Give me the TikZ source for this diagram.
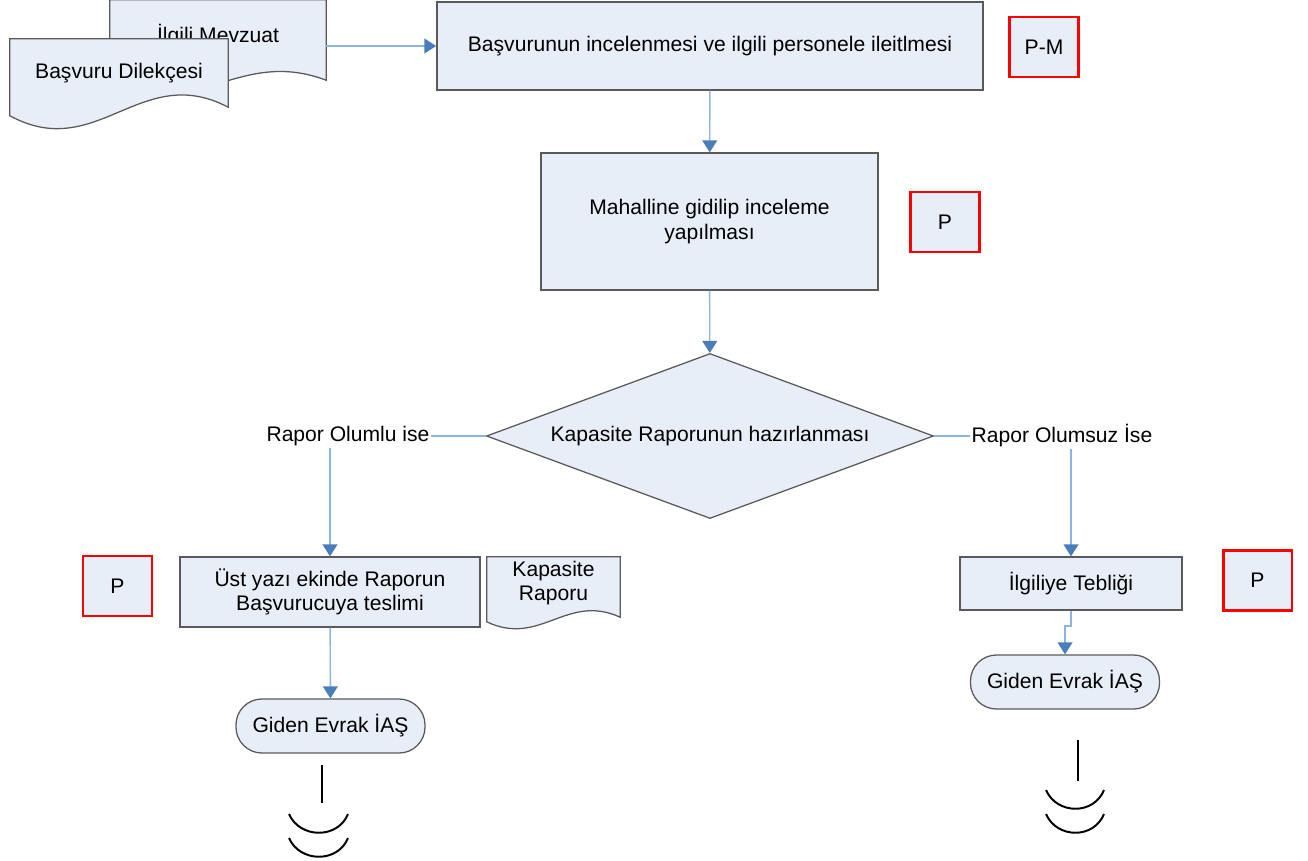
\documentclass[tikz,border=0pt]{standalone}
\usepackage{fontspec}
\setmainfont{Liberation Sans}
\usetikzlibrary{shapes.geometric,arrows.meta,calc}
\definecolor{boxfill}{RGB}{232,238,247}
\definecolor{boxline}{RGB}{90,90,90}
\definecolor{flowline}{RGB}{141,179,226}
\definecolor{flowtip}{RGB}{74,126,187}

% wavy outline drawn round an (empty) document node, #1 = depth of the wave
\newcommand{\docshape}[2][1]{%
  \filldraw[fill=boxfill,draw=boxline,line width=0.9pt]
    ($(#2.south west)+(0,6*#1)$) -- (#2.north west) -- (#2.north east) -- (#2.south east)
    .. controls ($(#2.south east)!0.4!(#2.south west)+(0,-33*#1)$)
       and ($(#2.south east)!0.6!(#2.south west)+(0,40*#1)$) .. ($(#2.south west)+(0,6*#1)$) -- cycle;}

\begin{document}
\begin{tikzpicture}[x=0.025cm,y=-0.025cm,
  every node/.style={font=\fontsize{15}{17.5}\selectfont,align=center},
  box/.style={draw=boxline,fill=boxfill,line width=0.9pt,inner sep=0pt},
  tag/.style={draw=red,fill=boxfill,line width=2pt,inner sep=0pt,minimum width=1.72cm,minimum height=1.5cm},
  term/.style={box,rounded corners=0.65cm,minimum width=4.725cm,minimum height=1.35cm},
  docbox/.style={inner sep=0pt},
  lbl/.style={inner sep=1pt},
  flow/.style={draw=flowline,line width=1pt,-{Triangle[color=flowtip,length=8.5pt,width=10.5pt]}},
  link/.style={draw=flowline,line width=1pt},
  endmark/.style={draw=black,line width=1.4pt}]
  \useasboundingbox (0,0) rectangle (1308,861);

  % documents at the top left
  \node[docbox,minimum width=5.4cm,minimum height=2cm] (d1) at (218,40) {};
  \docshape{d1}
  \node (d1t) at (218,36) {İlgili Mevzuat};
  \node[docbox,minimum width=5.45cm,minimum height=1.7cm] (d2) at (119,73) {};
  \docshape[1.4]{d2}
  \node (d2t) at (d2) {Başvuru Dilekçesi};

  % main flow
  \node[box,minimum width=13.65cm,minimum height=2.2cm] (n1) at (710,46)
       {Başvurunun incelenmesi ve ilgili personele ileitlmesi};
  \node[tag] (n1p) at (1044,47) {P-M};
  \node[box,minimum width=8.425cm,minimum height=3.425cm] (n2) at (709.5,221.5)
       {Mahalline gidilip inceleme\\yapılması};
  \node[tag] (n2p) at (945,222) {P};
  \node[box,diamond,aspect=2.7,minimum width=11.175cm,minimum height=4.125cm] (n3) at (710,436)
       {Kapasite Raporunun hazırlanması};
  \node[lbl] (n3l) at (348,436) {Rapor Olumlu ise};
  \node[lbl] (n3r) at (1062,436) {Rapor Olumsuz İse};

  % left branch
  \node[box,minimum width=7.5cm,minimum height=1.75cm] (n4) at (330,592)
       {Üst yazı ekinde Raporun\\Başvurucuya teslimi};
  \node[tag] (n4p) at (117.5,586) {P};
  \node[docbox,minimum width=3.325cm,minimum height=1.5cm] (d3) at (553.5,587) {};
  \docshape[0.75]{d3}
  \node (d3t) at (553.5,583) {Kapasite\\Raporu};
  \node[term] (n5) at (330.5,726) {Giden Evrak İAŞ};

  % right branch
  \node[box,minimum width=5.55cm,minimum height=1.325cm] (n6) at (1071,583.5) {İlgiliye Tebliği};
  \node[tag] (n6p) at (1257.5,580.5) {P};
  \node[term] (n7) at (1065,682) {Giden Evrak İAŞ};

  \draw[flow] (d1.east |- n1.west) -- (n1.west);
  \draw[flow] (n1) -- (n2);
  \draw[flow] (n2) -- (n3);
  \draw[link] (n3.west) -- (n3l.east);
  \draw[link] (n3.east) -- (n3r.west);
  \draw[flow] (n3l.south -| n4.north) -- (n4.north);
  \draw[flow] (n3r.south -| n6.north) -- (n6.north);
  \draw[flow] (n4) -- (n5);
  \draw[flow] (n6.south) |- ($(n6.south)!0.35!(n7.north)$) -| (n7.north);

  % off-page marks
  \draw[endmark] (322,765) -- (322,803);
  \draw[endmark] (289,814) .. controls (300,839) and (338,839) .. (348,814);
  \draw[endmark] (289,838) .. controls (300,863) and (338,863) .. (348,838);
  \draw[endmark] (1078,740) -- (1078,781);
  \draw[endmark] (1046,790) .. controls (1057,815) and (1094,815) .. (1104,790);
  \draw[endmark] (1046,814) .. controls (1057,839) and (1094,839) .. (1104,814);
\end{tikzpicture}
\end{document}
